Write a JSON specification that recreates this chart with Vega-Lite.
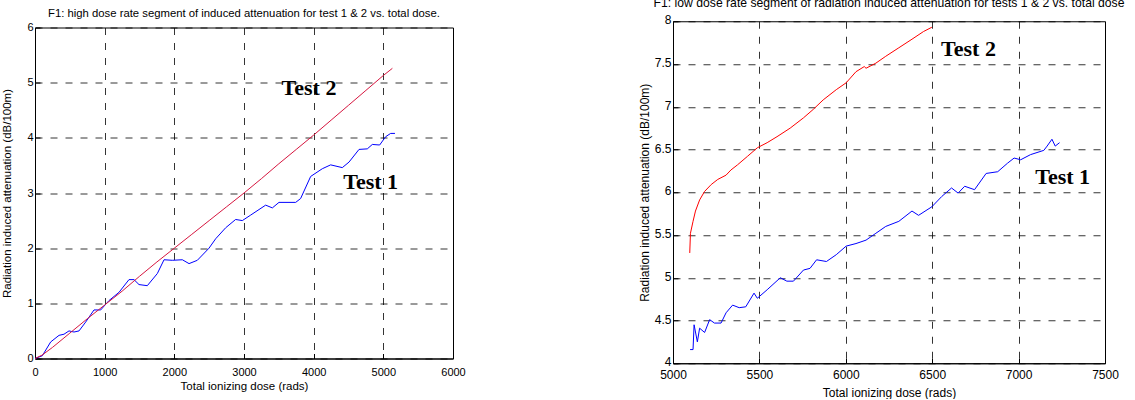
{
  "$schema": "https://vega.github.io/schema/vega-lite/v6.json",
  "padding": {"left": 1, "top": -4, "right": 0, "bottom": 0},
  "spacing": 171,
  "center": true,
  "background": "white",
  "datasets": {
    "left": [
      {"series": "Test 2", "dose": 0, "att": 0},
      {"series": "Test 2", "dose": 100, "att": 0.06},
      {"series": "Test 2", "dose": 250, "att": 0.2},
      {"series": "Test 2", "dose": 500, "att": 0.46},
      {"series": "Test 2", "dose": 750, "att": 0.72},
      {"series": "Test 2", "dose": 1000, "att": 0.97},
      {"series": "Test 2", "dose": 1250, "att": 1.22},
      {"series": "Test 2", "dose": 1500, "att": 1.49},
      {"series": "Test 2", "dose": 1750, "att": 1.75},
      {"series": "Test 2", "dose": 2000, "att": 2.0},
      {"series": "Test 2", "dose": 2250, "att": 2.25},
      {"series": "Test 2", "dose": 2500, "att": 2.5},
      {"series": "Test 2", "dose": 2750, "att": 2.75},
      {"series": "Test 2", "dose": 3000, "att": 3.0},
      {"series": "Test 2", "dose": 3250, "att": 3.26},
      {"series": "Test 2", "dose": 3500, "att": 3.53},
      {"series": "Test 2", "dose": 3750, "att": 3.79},
      {"series": "Test 2", "dose": 4000, "att": 4.05},
      {"series": "Test 2", "dose": 4250, "att": 4.32},
      {"series": "Test 2", "dose": 4500, "att": 4.59},
      {"series": "Test 2", "dose": 4750, "att": 4.86},
      {"series": "Test 2", "dose": 5000, "att": 5.13},
      {"series": "Test 2", "dose": 5130, "att": 5.26},
      {"series": "Test 1", "dose": 0, "att": 0},
      {"series": "Test 1", "dose": 105, "att": 0.05},
      {"series": "Test 1", "dose": 225, "att": 0.3},
      {"series": "Test 1", "dose": 345, "att": 0.42},
      {"series": "Test 1", "dose": 416, "att": 0.44},
      {"series": "Test 1", "dose": 488, "att": 0.5},
      {"series": "Test 1", "dose": 560, "att": 0.48},
      {"series": "Test 1", "dose": 632, "att": 0.5},
      {"series": "Test 1", "dose": 727, "att": 0.66},
      {"series": "Test 1", "dose": 847, "att": 0.88},
      {"series": "Test 1", "dose": 943, "att": 0.88},
      {"series": "Test 1", "dose": 1062, "att": 1.05},
      {"series": "Test 1", "dose": 1206, "att": 1.2},
      {"series": "Test 1", "dose": 1349, "att": 1.43},
      {"series": "Test 1", "dose": 1421, "att": 1.43},
      {"series": "Test 1", "dose": 1493, "att": 1.34},
      {"series": "Test 1", "dose": 1612, "att": 1.32},
      {"series": "Test 1", "dose": 1756, "att": 1.54},
      {"series": "Test 1", "dose": 1852, "att": 1.79},
      {"series": "Test 1", "dose": 1971, "att": 1.78},
      {"series": "Test 1", "dose": 2115, "att": 1.79},
      {"series": "Test 1", "dose": 2211, "att": 1.72},
      {"series": "Test 1", "dose": 2330, "att": 1.78},
      {"series": "Test 1", "dose": 2498, "att": 2.0},
      {"series": "Test 1", "dose": 2593, "att": 2.17},
      {"series": "Test 1", "dose": 2737, "att": 2.37},
      {"series": "Test 1", "dose": 2880, "att": 2.52},
      {"series": "Test 1", "dose": 2976, "att": 2.5},
      {"series": "Test 1", "dose": 3096, "att": 2.6},
      {"series": "Test 1", "dose": 3311, "att": 2.78},
      {"series": "Test 1", "dose": 3407, "att": 2.73},
      {"series": "Test 1", "dose": 3502, "att": 2.83},
      {"series": "Test 1", "dose": 3742, "att": 2.83},
      {"series": "Test 1", "dose": 3813, "att": 2.9},
      {"series": "Test 1", "dose": 3957, "att": 3.3},
      {"series": "Test 1", "dose": 4124, "att": 3.44},
      {"series": "Test 1", "dose": 4244, "att": 3.51},
      {"series": "Test 1", "dose": 4411, "att": 3.46},
      {"series": "Test 1", "dose": 4507, "att": 3.56},
      {"series": "Test 1", "dose": 4651, "att": 3.79},
      {"series": "Test 1", "dose": 4770, "att": 3.8},
      {"series": "Test 1", "dose": 4842, "att": 3.88},
      {"series": "Test 1", "dose": 4947, "att": 3.87},
      {"series": "Test 1", "dose": 5033, "att": 4.02},
      {"series": "Test 1", "dose": 5105, "att": 4.08},
      {"series": "Test 1", "dose": 5167, "att": 4.08}
    ],
    "right": [
      {"series": "Test 2", "dose": 5097, "att": 5.29},
      {"series": "Test 2", "dose": 5101, "att": 5.52},
      {"series": "Test 2", "dose": 5116, "att": 5.66},
      {"series": "Test 2", "dose": 5130, "att": 5.78},
      {"series": "Test 2", "dose": 5154, "att": 5.91},
      {"series": "Test 2", "dose": 5183, "att": 6.01},
      {"series": "Test 2", "dose": 5221, "att": 6.09},
      {"series": "Test 2", "dose": 5259, "att": 6.15},
      {"series": "Test 2", "dose": 5307, "att": 6.2},
      {"series": "Test 2", "dose": 5335, "att": 6.26},
      {"series": "Test 2", "dose": 5373, "att": 6.32},
      {"series": "Test 2", "dose": 5431, "att": 6.42},
      {"series": "Test 2", "dose": 5488, "att": 6.52},
      {"series": "Test 2", "dose": 5545, "att": 6.58},
      {"series": "Test 2", "dose": 5602, "att": 6.65},
      {"series": "Test 2", "dose": 5678, "att": 6.75},
      {"series": "Test 2", "dose": 5755, "att": 6.87},
      {"series": "Test 2", "dose": 5812, "att": 6.97},
      {"series": "Test 2", "dose": 5869, "att": 7.08},
      {"series": "Test 2", "dose": 5945, "att": 7.2},
      {"series": "Test 2", "dose": 6002, "att": 7.28},
      {"series": "Test 2", "dose": 6059, "att": 7.41},
      {"series": "Test 2", "dose": 6107, "att": 7.47},
      {"series": "Test 2", "dose": 6117, "att": 7.45},
      {"series": "Test 2", "dose": 6174, "att": 7.51},
      {"series": "Test 2", "dose": 6231, "att": 7.59},
      {"series": "Test 2", "dose": 6307, "att": 7.69},
      {"series": "Test 2", "dose": 6383, "att": 7.79},
      {"series": "Test 2", "dose": 6450, "att": 7.88},
      {"series": "Test 2", "dose": 6498, "att": 7.93},
      {"series": "Test 1", "dose": 5099, "att": 4.16},
      {"series": "Test 1", "dose": 5116, "att": 4.16},
      {"series": "Test 1", "dose": 5122, "att": 4.45},
      {"series": "Test 1", "dose": 5141, "att": 4.25},
      {"series": "Test 1", "dose": 5154, "att": 4.41},
      {"series": "Test 1", "dose": 5183, "att": 4.36},
      {"series": "Test 1", "dose": 5212, "att": 4.51},
      {"series": "Test 1", "dose": 5240, "att": 4.47},
      {"series": "Test 1", "dose": 5278, "att": 4.47},
      {"series": "Test 1", "dose": 5307, "att": 4.59},
      {"series": "Test 1", "dose": 5345, "att": 4.68},
      {"series": "Test 1", "dose": 5383, "att": 4.65},
      {"series": "Test 1", "dose": 5421, "att": 4.66},
      {"series": "Test 1", "dose": 5469, "att": 4.82},
      {"series": "Test 1", "dose": 5488, "att": 4.76},
      {"series": "Test 1", "dose": 5545, "att": 4.86},
      {"series": "Test 1", "dose": 5621, "att": 5.0},
      {"series": "Test 1", "dose": 5659, "att": 4.96},
      {"series": "Test 1", "dose": 5697, "att": 4.96},
      {"series": "Test 1", "dose": 5755, "att": 5.09},
      {"series": "Test 1", "dose": 5793, "att": 5.11},
      {"series": "Test 1", "dose": 5831, "att": 5.21},
      {"series": "Test 1", "dose": 5888, "att": 5.19},
      {"series": "Test 1", "dose": 5945, "att": 5.27},
      {"series": "Test 1", "dose": 6002, "att": 5.37},
      {"series": "Test 1", "dose": 6059, "att": 5.4},
      {"series": "Test 1", "dose": 6117, "att": 5.44},
      {"series": "Test 1", "dose": 6174, "att": 5.52},
      {"series": "Test 1", "dose": 6231, "att": 5.6},
      {"series": "Test 1", "dose": 6307, "att": 5.66},
      {"series": "Test 1", "dose": 6383, "att": 5.78},
      {"series": "Test 1", "dose": 6421, "att": 5.73},
      {"series": "Test 1", "dose": 6498, "att": 5.83},
      {"series": "Test 1", "dose": 6555, "att": 5.95},
      {"series": "Test 1", "dose": 6612, "att": 6.05},
      {"series": "Test 1", "dose": 6650, "att": 5.99},
      {"series": "Test 1", "dose": 6688, "att": 6.07},
      {"series": "Test 1", "dose": 6745, "att": 6.03},
      {"series": "Test 1", "dose": 6812, "att": 6.22},
      {"series": "Test 1", "dose": 6879, "att": 6.24},
      {"series": "Test 1", "dose": 6936, "att": 6.34},
      {"series": "Test 1", "dose": 6974, "att": 6.4},
      {"series": "Test 1", "dose": 7012, "att": 6.38},
      {"series": "Test 1", "dose": 7069, "att": 6.44},
      {"series": "Test 1", "dose": 7146, "att": 6.49},
      {"series": "Test 1", "dose": 7165, "att": 6.54},
      {"series": "Test 1", "dose": 7193, "att": 6.62},
      {"series": "Test 1", "dose": 7212, "att": 6.54},
      {"series": "Test 1", "dose": 7237, "att": 6.58}
    ]
  },
  "hconcat": [
    {
      "width": 418,
      "height": 331,
      "title": {"text": ["", "F1: high dose rate segment of induced attenuation for test 1 & 2 vs. total dose."], "lineHeight": 6, "offset": 2, "fontSize": 11.3},
      "layer": [
        {
          "data": {"name": "left"},
          "transform": [{"filter": "datum.series == 'Test 1'"}],
          "mark": {"type": "line", "color": "#0000ff", "strokeWidth": 1},
          "encoding": {
            "x": {"field": "dose", "type": "quantitative", "scale": {"domain": [0, 6000], "nice": false, "zero": false},
                  "axis": {"values": [0, 1000, 2000, 3000, 4000, 5000, 6000], "format": "d", "title": "Total ionizing dose (rads)", "labelPadding": 13, "titlePadding": 3}},
            "y": {"field": "att", "type": "quantitative", "scale": {"domain": [0, 6], "nice": false},
                  "axis": {"values": [0, 1, 2, 3, 4, 5, 6], "labelExpr": "'' + datum.value", "labelPadding": 7, "title": "Radiation induced attenuation (dB/100m)", "titlePadding": 14}}
          }
        },
        {
          "data": {"name": "left"},
          "transform": [{"filter": "datum.series == 'Test 2'"}],
          "mark": {"type": "line", "color": "#d6163f", "strokeWidth": 1},
          "encoding": {
            "x": {"field": "dose", "type": "quantitative"},
            "y": {"field": "att", "type": "quantitative"}
          }
        },
        {
          "data": {"values": [{"label": "Test 2", "dose": 3933, "att": 4.9}, {"label": "Test 1", "dose": 4818, "att": 3.2}]},
          "mark": {"type": "text", "font": "Liberation Serif", "fontWeight": "bold", "fontSize": 22, "color": "black", "baseline": "middle"},
          "encoding": {
            "x": {"field": "dose", "type": "quantitative"},
            "y": {"field": "att", "type": "quantitative"},
            "text": {"field": "label"}
          }
        }
      ]
    },
    {
      "width": 432,
      "height": 342,
      "title": {"text": "F1: low dose rate segment of radiation induced attenuation for tests 1 & 2 vs. total dose", "offset": 5, "fontSize": 12.2},
      "layer": [
        {
          "data": {"name": "right"},
          "transform": [{"filter": "datum.series == 'Test 1'"}],
          "mark": {"type": "line", "color": "#0000ff", "strokeWidth": 1},
          "encoding": {
            "x": {"field": "dose", "type": "quantitative", "scale": {"domain": [5000, 7500], "nice": false, "zero": false},
                  "axis": {"values": [5000, 5500, 6000, 6500, 7000, 7500], "format": "d", "title": "Total ionizing dose (rads)", "labelFontSize": 12, "titleFontSize": 12, "labelPadding": 11, "titlePadding": 7}},
            "y": {"field": "att", "type": "quantitative", "scale": {"domain": [4, 8], "nice": false, "zero": false},
                  "axis": {"values": [4, 4.5, 5, 5.5, 6, 6.5, 7, 7.5, 8], "labelExpr": "'' + datum.value", "labelFontSize": 12, "titleFontSize": 12, "labelPadding": 7, "labelOffset": -1.5, "title": "Radiation induced attenuation (dB/100m)", "titlePadding": 3}}
          }
        },
        {
          "data": {"name": "right"},
          "transform": [{"filter": "datum.series == 'Test 2'"}],
          "mark": {"type": "line", "color": "#ff0000", "strokeWidth": 1},
          "encoding": {
            "x": {"field": "dose", "type": "quantitative"},
            "y": {"field": "att", "type": "quantitative"}
          }
        },
        {
          "data": {"values": [{"label": "Test 2", "dose": 6710, "att": 7.68}, {"label": "Test 1", "dose": 7255, "att": 6.18}]},
          "mark": {"type": "text", "font": "Liberation Serif", "fontWeight": "bold", "fontSize": 22, "color": "black", "baseline": "middle"},
          "encoding": {
            "x": {"field": "dose", "type": "quantitative"},
            "y": {"field": "att", "type": "quantitative"},
            "text": {"field": "label"}
          }
        }
      ]
    }
  ],
  "config": {
    "view": {"stroke": "black", "strokeWidth": 1},
    "title": {"font": "Liberation Sans", "fontSize": 11, "fontWeight": "normal", "color": "black"},
    "axis": {
      "domainColor": "black",
      "tickColor": "black",
      "tickSize": -5,
      "labelPadding": 8,
      "gridColor": "black",
      "gridDash": [7, 8],
      "gridOpacity": 1,
      "gridWidth": 0.8,
      "labelFont": "Liberation Sans",
      "labelFontSize": 11,
      "labelColor": "black",
      "labelFlush": false,
      "labelOverlap": false,
      "titleFont": "Liberation Sans",
      "titleFontSize": 11.5,
      "titleFontWeight": "normal",
      "titleColor": "black"
    }
  }
}
